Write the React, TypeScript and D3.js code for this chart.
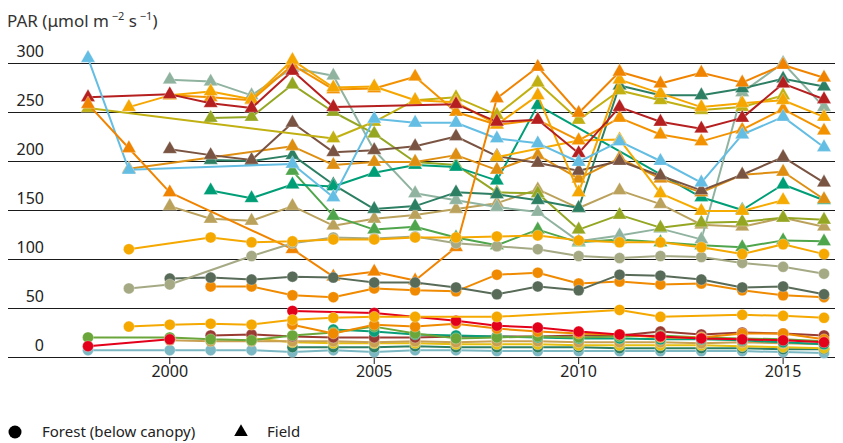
import React from 'react';
import * as d3 from 'd3';

// ---------- DATA ----------
const years = [1998, 1999, 2000, 2001, 2002, 2003, 2004, 2005, 2006, 2007, 2008, 2009, 2010, 2011, 2012, 2013, 2014, 2015, 2016];
const yTickValues = [0, 50, 100, 150, 200, 250, 300];
const xTickValues = [2000, 2005, 2010, 2015];
const legendLabels = ['Forest (below canopy)', 'Field'];

type V = number | null;
const _ = null;

// Field (triangles)
const fieldLightBlue: V[] = [305, 191, _, _, _, 197, 163, 243, 239, 239, 223, 218, 199, 220, 200, 178, 227, 245, 214];
const fieldDarkRed: V[] = [265, _, 268, 259, 254, 292, 255, _, _, 258, 240, 242, 208, 255, 240, 233, 244, 279, 263];
const fieldOrange: V[] = [258, 213, 168, _, _, 110, 82, 87, 78, 112, 264, 296, 249, 291, 279, 290, 280, 298, 285];
const fieldAmber: V[] = [_, 255, 267, 271, 263, 303, 275, 276, 262, 260, 237, 267, 168, 283, 269, 255, 259, 262, 245];
const fieldOrange2: V[] = [_, _, 267, 265, 262, 298, 273, 274, 286, 250, 237, 242, 221, 244, 227, 220, 232, 253, 231];
const fieldOliveYellow: V[] = [254, _, _, _, _, _, 223, 240, 262, 265, 247, 280, 242, 272, 262, 252, 255, 267, _];
const fieldOliveGreen: V[] = [_, _, _, 244, 245, 278, 250, 228, 199, 196, 168, 167, 130, 145, 132, 137, 138, 142, 140];
const fieldGrayGreen: V[] = [_, _, 283, 281, 267, 295, 287, 211, 167, 160, 153, 148, 118, 124, 131, 120, 270, 300, 255];
const fieldBrown: V[] = [_, _, 212, 206, 201, 239, 209, 211, 215, 225, 205, 198, 190, 200, 185, 170, 186, 204, 178];
const fieldOchre: V[] = [_, 192, _, _, _, 215, 196, 199, 199, 206, 191, 206, 182, 203, 182, 168, 186, 189, 161];
const fieldTeal: V[] = [_, _, _, 170, 162, 176, 174, 188, 196, 194, 180, 257, _, _, _, 163, 150, 176, 160];
const fieldDarkTeal: V[] = [_, _, _, 201, 200, 206, 176, 151, 154, 168, 166, 160, 152, 277, 267, 267, 274, 284, 276];
const fieldGreen: V[] = [_, _, _, _, _, 190, 144, 130, 133, 122, 114, 130, 117, 120, 117, 114, 112, 119, 118];
const fieldTan: V[] = [_, _, 154, 141, 139, 154, 134, 141, 145, 151, 157, 171, 152, 170, 156, 135, 133, 142, 133];
const fieldAmberLow: V[] = [_, _, _, _, _, _, _, _, _, _, 204, _, 221, 222, 167, 149, 149, 160, _];

// Forest (circles)
const forestAmber: V[] = [_, 110, _, 122, 117, 118, 120, 120, 122, 122, 123, 124, 119, 117, 117, 112, 105, 115, 105];
const forestSage: V[] = [_, 70, 74, _, 103, 116, 122, 121, 123, 116, 113, 110, 103, 101, 103, 102, 96, 92, 85];
const forestSlate: V[] = [_, _, 80, 81, 79, 82, 81, 76, 76, 71, 64, 72, 68, 84, 83, 79, 71, 72, 64];
const forestOrange: V[] = [_, _, _, 72, 72, 63, 61, 70, 68, 67, 84, 86, 75, 77, 74, 75, 68, 63, 61];
const forestRedA: V[] = [11, _, 18, _, _, _, _, _, _, _, _, _, _, _, _, _, _, _, _];
const forestRedB: V[] = [_, _, _, _, _, 47, _, 45, _, 37, 32, 30, 26, 23, 21, 19, 18, 17, 15];
const forestAmber2: V[] = [_, 31, 33, 34, 33, 38, 40, 41, 41, _, 41, _, _, 48, 41, _, 43, 42, 40];
const forestOrangeLow: V[] = [_, _, _, _, _, 33, 24, 33, 31, 34, 29, 26, 24, 23, 20, 20, 24, 24, 18];
const forestGreen: V[] = [20, _, 20, 18, 17, 22, 25, 31, 24, 19, 20, 21, 20, 21, 22, 20, 19, 18, 16];
const forestTeal: V[] = [_, _, _, _, _, _, 28, 26, 23, 22, 21, 20, 19, 19, 18, 18, 17, 15, 13];
const forestBrownRed: V[] = [_, _, _, 22, 23, 21, 20, 20, 20, 21, 21, 21, 22, 22, 26, 23, 25, 24, 22];
const forestTan: V[] = [_, _, 17, 16, 16, 16, 16, 15, 16, 15, 16, 16, 15, 15, 15, 14, 15, 14, 13];
const forestYellow: V[] = [_, _, _, _, 19, 15, 14, 14, 14, 13, 13, 13, 12, 12, 12, 12, 11, 10, 9];
const forestDarkTeal: V[] = [_, _, _, _, _, 10, 10, 10, 11, 10, 10, 10, 10, 9, 9, 9, 9, 8, 8];
const forestLightTeal: V[] = [7, _, 7, 7, 7, 5, 7, 5, 7, 7, 6, 6, 6, 6, 6, 6, 6, 5, 4];

type Series = { values: V[]; color: string; shape: 'tri' | 'circ' };

const forestSeries: Series[] = [
  { values: forestLightTeal, color: '#7bb8c3', shape: 'circ' },
  { values: forestDarkTeal, color: '#2d7f64', shape: 'circ' },
  { values: forestYellow, color: '#e6bf10', shape: 'circ' },
  { values: forestTan, color: '#c9a052', shape: 'circ' },
  { values: forestBrownRed, color: '#9a3b32', shape: 'circ' },
  { values: forestTeal, color: '#0a9e78', shape: 'circ' },
  { values: forestGreen, color: '#6aa63a', shape: 'circ' },
  { values: forestOrangeLow, color: '#ef8a00', shape: 'circ' },
  { values: forestRedA, color: '#e3001b', shape: 'circ' },
  { values: forestRedB, color: '#e3001b', shape: 'circ' },
  { values: forestAmber2, color: '#f5a800', shape: 'circ' },
  { values: forestOrange, color: '#f08a00', shape: 'circ' },
  { values: forestSlate, color: '#586b58', shape: 'circ' },
  { values: forestSage, color: '#a6aa84', shape: 'circ' },
  { values: forestAmber, color: '#f5a800', shape: 'circ' },
];

const fieldSeries: Series[] = [
  { values: fieldTan, color: '#bba25c', shape: 'tri' },
  { values: fieldGreen, color: '#4fa54b', shape: 'tri' },
  { values: fieldGrayGreen, color: '#90b3a0', shape: 'tri' },
  { values: fieldOliveGreen, color: '#95a623', shape: 'tri' },
  { values: fieldDarkTeal, color: '#2d7f64', shape: 'tri' },
  { values: fieldTeal, color: '#009e76', shape: 'tri' },
  { values: fieldOchre, color: '#de8f12', shape: 'tri' },
  { values: fieldBrown, color: '#7a5442', shape: 'tri' },
  { values: fieldAmberLow, color: '#f5ab00', shape: 'tri' },
  { values: fieldOliveYellow, color: '#c0b012', shape: 'tri' },
  { values: fieldOrange2, color: '#f39200', shape: 'tri' },
  { values: fieldAmber, color: '#f5a600', shape: 'tri' },
  { values: fieldDarkRed, color: '#b51f1f', shape: 'tri' },
  { values: fieldLightBlue, color: '#64bde2', shape: 'tri' },
  { values: fieldOrange, color: '#f08400', shape: 'tri' },
];

// ---------- CHART ----------
const W = 843;
const H = 443;
const FONT = '"Noto Sans", "Open Sans", sans-serif';

const x = d3.scaleLinear().domain([1998, 2016]).range([88, 824]);
const y = d3.scaleLinear().domain([0, 300]).range([357, 63]);

const triPath = d3.symbol().type(d3.symbolTriangle).size(88)() as string;

function SeriesMarks({ s }: { s: Series }) {
  const pts = years
    .map((yr, i) => ({ yr, v: s.values[i] }))
    .filter((p) => p.v !== null) as { yr: number; v: number }[];
  const line = d3
    .line<{ yr: number; v: number }>()
    .x((p) => x(p.yr))
    .y((p) => y(p.v));
  return (
    <g>
      <path d={line(pts) || ''} fill="none" stroke={s.color} strokeWidth={2} strokeLinejoin="round" />
      {pts.map((p, i) =>
        s.shape === 'tri' ? (
          <path
            key={i}
            d={triPath}
            transform={`translate(${x(p.yr)},${y(p.v)})`}
            fill={s.color}
            stroke="#ffffff"
            strokeOpacity={0.5}
            strokeWidth={0.6}
          />
        ) : (
          <circle
            key={i}
            cx={x(p.yr)}
            cy={y(p.v)}
            r={5.5}
            fill={s.color}
            stroke="#ffffff"
            strokeOpacity={0.5}
            strokeWidth={0.6}
          />
        )
      )}
    </g>
  );
}

export default function App() {
  return (
    <svg
      width={W}
      height={H}
      viewBox={`0 0 ${W} ${H}`}
      style={{ position: 'absolute', left: 0, top: 0, background: '#fff' }}
      fontFamily={FONT}
    >
      {/* title */}
      <text x={7} y={27} fontSize={17} fill="#333">
        PAR (μmol m
        <tspan fontSize={11} dy={-7}> −2</tspan>
        <tspan dy={7}> s</tspan>
        <tspan fontSize={11} dy={-7}> −1</tspan>
        <tspan dy={7}>)</tspan>
      </text>

      {/* gridlines + y labels */}
      {yTickValues.map((t) => (
        <g key={t}>
          <line x1={8} x2={835} y1={Math.round(y(t)) + 0.5} y2={Math.round(y(t)) + 0.5} stroke="#1a1a1a" strokeWidth={1.2} />
          <text x={44} y={y(t) - 6} fontSize={16} fill="#222" textAnchor="end">
            {t}
          </text>
        </g>
      ))}

      {/* x ticks */}
      {xTickValues.map((t) => (
        <g key={t}>
          <line x1={x(t)} x2={x(t)} y1={357} y2={364} stroke="#1a1a1a" strokeWidth={1} />
          <text x={x(t)} y={377} fontSize={16} fill="#222" textAnchor="middle">
            {t}
          </text>
        </g>
      ))}

      {/* series */}
      {fieldSeries.map((s, i) => (
        <SeriesMarks key={'f' + i} s={s} />
      ))}
      {forestSeries.map((s, i) => (
        <SeriesMarks key={'c' + i} s={s} />
      ))}

      {/* legend */}
      <circle cx={15} cy={432} r={6.5} fill="#000" />
      <text x={42} y={437} fontSize={15} fill="#222">
        {legendLabels[0]}
      </text>
      <path d={d3.symbol().type(d3.symbolTriangle).size(80)() as string} transform="translate(241,432)" fill="#000" />
      <text x={267} y={437} fontSize={15} fill="#222">
        {legendLabels[1]}
      </text>
    </svg>
  );
}
